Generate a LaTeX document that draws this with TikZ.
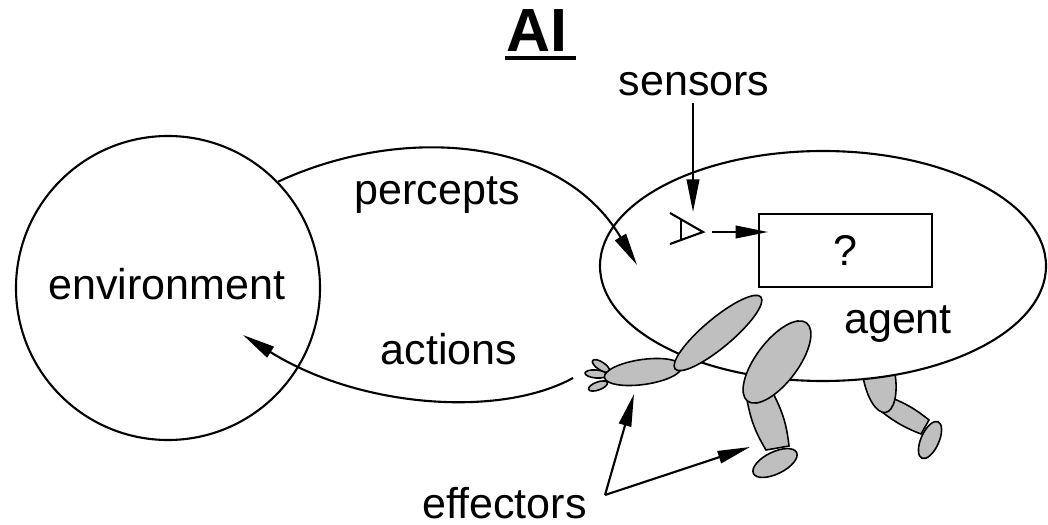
\documentclass[tikz,border=0pt]{standalone}
\usepackage{fontspec}
\setmainfont{Liberation Sans}
\usetikzlibrary{arrows.meta,calc}
\newcommand{\lblsize}   {\fontsize{24.5}{29}\selectfont}
\newcommand{\ttlsize}   {\fontsize{34.7}{40}\selectfont}

\begin{document}
\begin{tikzpicture}[x=0.2mm,y=-0.2mm,line width=1.2pt,
    lbl/.style={font=\lblsize,inner sep=0pt},
    limb/.style={fill=black!25,draw=black,line width=0.9pt},
    flow/.style={-{Triangle[length=6.5mm,width=2.5mm]}}]
   \useasboundingbox (0,0) rectangle (1048,525);
   % heading
   \node[font=\ttlsize\bfseries,anchor=base west,inner sep=0pt] (title) at (505,52) {AI};
   \draw[line width=0.8mm] (505,58) -- (576,58);

   % back leg, half hidden by the agent
   \filldraw[limb] (892,398) to[bend left=8] (929,420) -- (921,434) to[bend left=8] (882,412) -- cycle;
   \filldraw[limb,rotate around={10:(879,375)}] (879,375) ellipse[x radius=16,y radius=38];
   \filldraw[limb,rotate around={66:(930,440)}] (930,440) ellipse[x radius=20,y radius=9];

   % environment and agent
   \node[draw,circle,minimum size=60.8mm,inner sep=0pt] (env) at (168,288) {};
   \node[lbl,anchor=base] (envtxt) at (167,300) {environment};
   \filldraw[fill=white] (823,266) ellipse[x radius=223,y radius=115];
   \node[lbl,anchor=base] (agent) at (898,333) {agent};
   \node[draw,line width=0.9pt,minimum width=34.6mm,minimum height=14.6mm,font=\lblsize] (qbox) at (845.5,250.5) {?};

   % sensor
   \coordinate (eye) at (712,232);
   \coordinate (eyetop) at (693,212);
   \draw (670,213) -- (703,232) -- (670,244);
   \draw (681,219) -- (681,239);
   \node[lbl,anchor=base] (sensors) at (694,96) {sensors};
   \draw[flow,shorten <=1.2mm] (sensors.south -| eyetop) -- (eyetop);
   \draw[flow,shorten >=-2mm] (eye) -- (eye -| qbox.west);

   % percepts and actions
   \coordinate (pin) at (637,265);
   \coordinate (hand) at (573,378);
   \coordinate (aim) at (243,335);
   \draw[flow] (env.44) .. controls (400,125) and (560,135) .. (pin);
   \node[lbl,anchor=base] (percepts) at (437,205) {percepts};
   \draw[flow] (hand) .. controls (500,418) and (360,408) .. (aim);
   \node[lbl,anchor=base] (actions) at (449,365) {actions};

   % arm
   \filldraw[limb,rotate around={-33:(601,366)}] (601,366) ellipse[x radius=10,y radius=4];
   \filldraw[limb,rotate around={-5:(596,374)}] (596,374) ellipse[x radius=11,y radius=4];
   \filldraw[limb,rotate around={20:(598,386)}] (598,386) ellipse[x radius=10,y radius=4];
   \filldraw[limb,rotate around={8:(643,372)}] (643,372) ellipse[x radius=39,y radius=12.5];
   \filldraw[limb,rotate around={40:(718,333)}] (718,333) ellipse[x radius=56,y radius=14.5];

   % front leg
   \filldraw[limb] (747,400) to[bend right=10] (766,450) -- (789,446) to[bend right=10] (774,395) -- cycle;
   \filldraw[limb,rotate around={53:(777,362)}] (777,362) ellipse[x radius=49,y radius=21];
   \filldraw[limb,rotate around={26:(775,463)}] (775,463) ellipse[x radius=24,y radius=11];

   % effectors
   \node[lbl,anchor=base] (effectors) at (504.5,518) {effectors};
   \coordinate (fork) at (605,495);
   \coordinate (armtip) at (634,394);
   \coordinate (foottip) at (750,447);
   \draw[flow] (fork) -- (armtip);
   \draw[flow] (fork) -- (foottip);
\end{tikzpicture}
\end{document}
